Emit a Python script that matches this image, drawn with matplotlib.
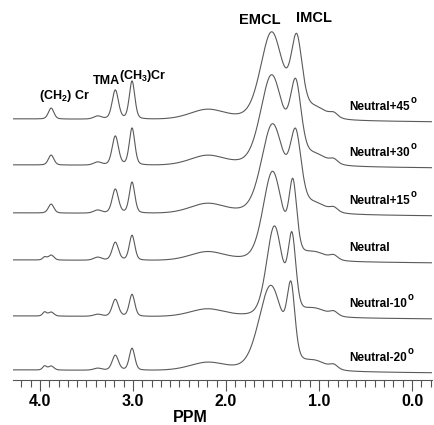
"""Stacked 1H MR spectra of muscle at several leg angles (EMCL / IMCL)."""
import numpy as np
import matplotlib
matplotlib.use("Agg")
import matplotlib.pyplot as plt
from matplotlib.ticker import MultipleLocator, FormatStrFormatter

plt.rcParams["font.family"] = ["Liberation Sans", "DejaVu Sans"]
plt.rcParams["mathtext.fontset"] = "custom"
plt.rcParams["mathtext.rm"] = "Liberation Sans:bold"
plt.rcParams["mathtext.bf"] = "Liberation Sans:bold"

LABELS = ["Neutral+45", "Neutral+30", "Neutral+15", "Neutral", "Neutral-10", "Neutral-20"]
DEGREE = [True, True, True, False, True, True]
OFFSET = [261, 215, 167, 120, 64, 10]          # baseline of each trace (a.u.)

# fixed metabolite peaks: centre (ppm), FWHM (ppm)
PEAK_PPM = [3.88, 3.95, 3.38, 3.19, 3.01, 2.20, 1.05, 0.84]
PEAK_FWHM = [0.07, 0.05, 0.10, 0.08, 0.07, 0.45, 0.32, 0.10]

# per-trace amplitudes
CH2CR_A = [11, 10, 9, 5, 4, 4]
CH2CR_B = [0, 0, 0, 3, 4, 4]
BUMP = [3, 3, 3, 3, 2, 2]
TMA = [29, 29, 24, 18, 17, 15]
CR = [38, 37, 31, 25, 22, 22]
HUMP = [10, 10, 10, 9, 8, 8]
TAIL = [11, 10, 9, 8, 8, 9]
SHOULDER = [4, 4, 4, 4, 4, 4]

# lipid peaks, per trace
EMCL = [87, 90, 89, 89, 90, 85]
IMCL = [73, 73, 70, 69, 73, 67]
EMCL_PPM = [1.51, 1.51, 1.50, 1.50, 1.48, 1.52]
IMCL_PPM = [1.24, 1.25, 1.25, 1.28, 1.29, 1.30]
EMCL_FWHM = [0.28, 0.28, 0.28, 0.24, 0.20, 0.30]
IMCL_FWHM = [0.14, 0.14, 0.14, 0.10, 0.10, 0.10]

ppm = np.linspace(4.29, -0.215, 1500)


def line(c, w, g=0.7):
    d = (ppm - c) / (w / 2)
    return g * np.exp(-np.log(2) * d ** 2) + (1 - g) / (1 + d ** 2)


def spectrum(i):
    amps = [CH2CR_A[i], CH2CR_B[i], BUMP[i], TMA[i], CR[i], HUMP[i], TAIL[i], SHOULDER[i]]
    y = np.zeros_like(ppm)
    for a, c, w in zip(amps, PEAK_PPM, PEAK_FWHM):
        y += a * line(c, w)
    y += EMCL[i] * line(EMCL_PPM[i], EMCL_FWHM[i])
    y += IMCL[i] * line(IMCL_PPM[i], IMCL_FWHM[i])
    y -= 3 * (4.29 - ppm) / 4.5
    return OFFSET[i] + y


fig = plt.figure(figsize=(4.35, 4.25), dpi=100)
ax = fig.add_axes([13 / 435, 45 / 425, 419 / 435, 380 / 425])
labels = []
for i, lab in enumerate(LABELS):
    ax.plot(ppm, spectrum(i), color="#5a5a5a", lw=0.8)
    labels.append(ax.text(0.67, OFFSET[i] + 12, lab, fontsize=8.5, fontweight="bold",
                          ha="left", va="center"))

ax.text(1.64, 360, "EMCL", fontsize=10.5, fontweight="bold", ha="center", va="center")
ax.text(1.05, 362, "IMCL", fontsize=10.5, fontweight="bold", ha="center", va="center")
ax.text(3.29, 299, "TMA", fontsize=9, fontweight="bold", ha="center", va="center")
ax.text(2.89, 304, "(CH$_{\\mathbf{3}}$)Cr", fontsize=9, fontweight="bold", ha="center", va="center")
ax.text(3.74, 284, "(CH$_{\\mathbf{2}}$) Cr", fontsize=9, fontweight="bold", ha="center", va="center")

ax.set_xlim(4.29, -0.215)
ax.set_ylim(0, 380)
ax.xaxis.set_major_locator(MultipleLocator(1.0))
ax.xaxis.set_minor_locator(MultipleLocator(0.1))
ax.xaxis.set_major_formatter(FormatStrFormatter("%.1f"))
ax.tick_params(axis="x", which="major", length=8, width=0.8, color="#555555", labelsize=11.5, pad=2)
ax.tick_params(axis="x", which="minor", length=5, width=0.8, color="#555555")
for lbl in ax.get_xticklabels():
    lbl.set_fontweight("bold")
ax.set_yticks([])
for s in ("top", "right", "left"):
    ax.spines[s].set_visible(False)
ax.spines["bottom"].set_color("#555555")
ax.spines["bottom"].set_linewidth(0.8)
fig.text(190 / 435, 1 - 417 / 425, "PPM", fontsize=11.5, fontweight="bold", ha="center", va="center")
ax.patch.set_alpha(0)

# degree marks: a raised "o" just after each label
fig.canvas.draw()
inv = fig.transFigure.inverted()
for t, deg in zip(labels, DEGREE):
    if deg:
        bb = t.get_window_extent()
        x0, y0 = inv.transform((bb.x1 + 0.5, bb.y1 + 1))
        fig.text(x0, y0, "o", fontsize=7, fontweight="bold", ha="left", va="center")

fig.savefig("out.png", dpi=100)
